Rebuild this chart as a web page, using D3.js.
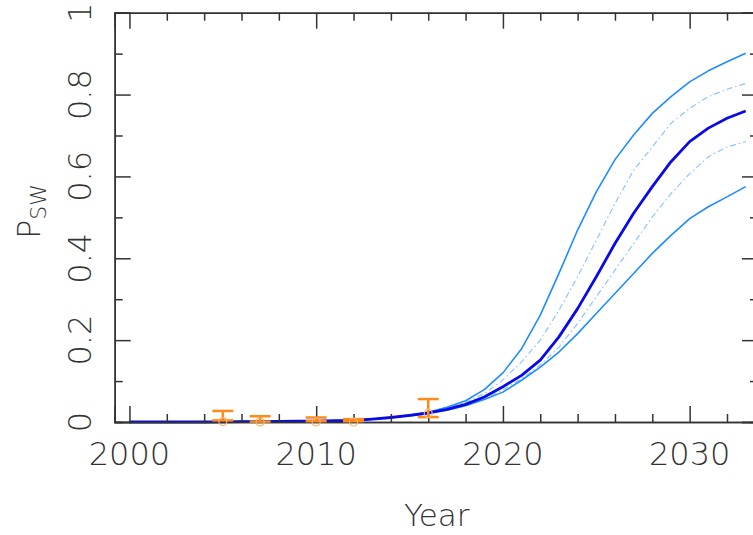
<!DOCTYPE html>
<html><head><meta charset="utf-8">
<script src="https://cdn.jsdelivr.net/npm/d3@7"></script>
<style>
html,body{margin:0;padding:0;background:#fff;}
text{font-family:"DejaVu Sans",sans-serif;font-weight:200;fill:#333;}
</style></head>
<body><svg id="c" width="753" height="535"></svg>
<script>
const years = [2000,2001,2002,2003,2004,2005,2006,2007,2008,2009,2010,2011,2012,2013,2014,2015,2016,2017,2018,2019,2020,2021,2022,2023,2024,2025,2026,2027,2028,2029,2030,2031,2032,2033];
const median   = [0,0,0,0,0,0.0005,0.001,0.001,0.0015,0.002,0.002,0.003,0.004,0.007,0.011,0.016,0.022,0.031,0.043,0.061,0.086,0.114,0.151,0.208,0.277,0.355,0.436,0.510,0.575,0.636,0.685,0.718,0.742,0.760];
const upper95  = [0,0,0,0,0,0.0005,0.001,0.001,0.0015,0.002,0.002,0.003,0.004,0.007,0.011,0.017,0.024,0.036,0.052,0.079,0.120,0.179,0.261,0.363,0.469,0.562,0.641,0.701,0.754,0.795,0.831,0.858,0.880,0.901];
const lower95  = [0,0,0,0,0,0.0005,0.001,0.001,0.0015,0.002,0.002,0.003,0.004,0.007,0.011,0.015,0.021,0.029,0.040,0.055,0.073,0.102,0.134,0.171,0.216,0.265,0.314,0.363,0.412,0.456,0.497,0.526,0.550,0.575];
const upper68  = [0,0,0,0,0,0.0005,0.001,0.001,0.0015,0.002,0.002,0.003,0.004,0.007,0.011,0.016,0.023,0.033,0.048,0.069,0.103,0.147,0.200,0.273,0.355,0.444,0.534,0.615,0.672,0.730,0.766,0.795,0.813,0.827];
const lower68  = [0,0,0,0,0,0.0005,0.001,0.001,0.0015,0.002,0.002,0.003,0.004,0.007,0.011,0.016,0.022,0.030,0.041,0.057,0.078,0.106,0.139,0.183,0.241,0.306,0.371,0.436,0.501,0.558,0.607,0.648,0.672,0.685];

const obsYears = [2005,2007,2010,2012,2016];
const obsValue = [0.001,0.0,0.0,0.0,0.021];
const obsLow   = [0.004,0.001,0.002,0.002,0.012];
const obsHigh  = [0.027,0.014,0.011,0.007,0.056];

const xMajor = [2000,2010,2020,2030];
const xMinor = [2002,2004,2006,2008,2012,2014,2016,2018,2022,2024,2026,2028,2032];
const yMajor = [0,0.2,0.4,0.6,0.8,1];
const yMinor = [0.1,0.3,0.5,0.7,0.9];
const yLabels = ["0","0.2","0.4","0.6","0.8","1"];

const svg = d3.select("#c");
const L = 114.7, R = 758, T = 12.7, B = 422;
const x = d3.scaleLinear().domain([1999.21, 2033.66]).range([L, R]);
const y = d3.scaleLinear().domain([0, 1]).range([B, T]);

// lines
const line = vals => d3.line().x((d,i)=>x(years[i])).y(d=>y(d)).curve(d3.curveLinear)(vals);
const g = svg.append("g");
[[upper68,"#8cc4ff",1.2,"6,3,1.5,3"],[lower68,"#8cc4ff",1.2,"6,3,1.5,3"],
 [upper95,"#1e8cff",1.6,null],[lower95,"#1e8cff",1.6,null]].forEach(([v,c,w,d])=>{
  g.append("path").attr("d",line(v)).attr("fill","none").attr("stroke",c).attr("stroke-width",w)
   .attr("stroke-dasharray",d).attr("stroke-linejoin","round");
});
g.append("path").attr("d",line(median)).attr("fill","none").attr("stroke","#0a0ae6").attr("stroke-width",2.8).attr("stroke-linejoin","round");

// axes
function ax(gen, tr, vals, size){
  svg.append("g").attr("transform",tr)
    .call(gen.tickValues(vals).tickSize(size).tickFormat(""))
    .call(s=>{s.selectAll("path").attr("stroke","#333").attr("stroke-width",1.5);
              s.selectAll("line").attr("stroke","#333").attr("stroke-width",1.5);});
}
ax(d3.axisBottom(x), `translate(0,${B})`, xMajor, -16);
ax(d3.axisBottom(x), `translate(0,${B})`, xMinor, -8);
ax(d3.axisTop(x), `translate(0,${T})`, xMajor, -16);
ax(d3.axisTop(x), `translate(0,${T})`, xMinor, -8);
ax(d3.axisLeft(y), `translate(${L},0)`, yMajor, -16);
ax(d3.axisLeft(y), `translate(${L},0)`, yMinor, -8);
ax(d3.axisRight(y), `translate(${R},0)`, yMajor, -16);
ax(d3.axisRight(y), `translate(${R},0)`, yMinor, -8);

// observations
const og = svg.append("g");
obsYears.forEach((yr,i)=>{
  const cx = x(yr);
  og.append("line").attr("x1",cx).attr("x2",cx).attr("y1",y(obsLow[i])).attr("y2",y(obsHigh[i]))
    .attr("stroke","#ff8a1a").attr("stroke-width",2.5);
  [obsLow[i],obsHigh[i]].forEach(v=>og.append("line").attr("x1",cx-10.5).attr("x2",cx+10.5)
    .attr("y1",y(v)).attr("y2",y(v)).attr("stroke","#ff8a1a").attr("stroke-width",2.5));
  og.append("circle").attr("cx",cx).attr("cy",y(obsValue[i])).attr("r",4)
    .attr("fill","none").attr("stroke","#ffb060").attr("stroke-width",1.2);
});

// tick labels
xMajor.forEach(v=>svg.append("text").attr("x",x(v)).attr("y",465).attr("text-anchor","middle")
  .attr("font-size",32).text(String(v)));
yMajor.forEach((v,i)=>svg.append("text").attr("transform",`translate(91,${y(v)}) rotate(-90)`)
  .attr("text-anchor","middle").attr("font-size",32).text(yLabels[i]));

// axis titles
svg.append("text").attr("x",436.7).attr("y",526).attr("text-anchor","middle").attr("font-size",31).text("Year");
const t = svg.append("text").attr("transform","translate(40,211.5) rotate(-90)").attr("text-anchor","middle").attr("font-size",32);
t.append("tspan").text("P");
t.append("tspan").attr("font-size",22).attr("dy",6).text("SW");
</script></body></html>
